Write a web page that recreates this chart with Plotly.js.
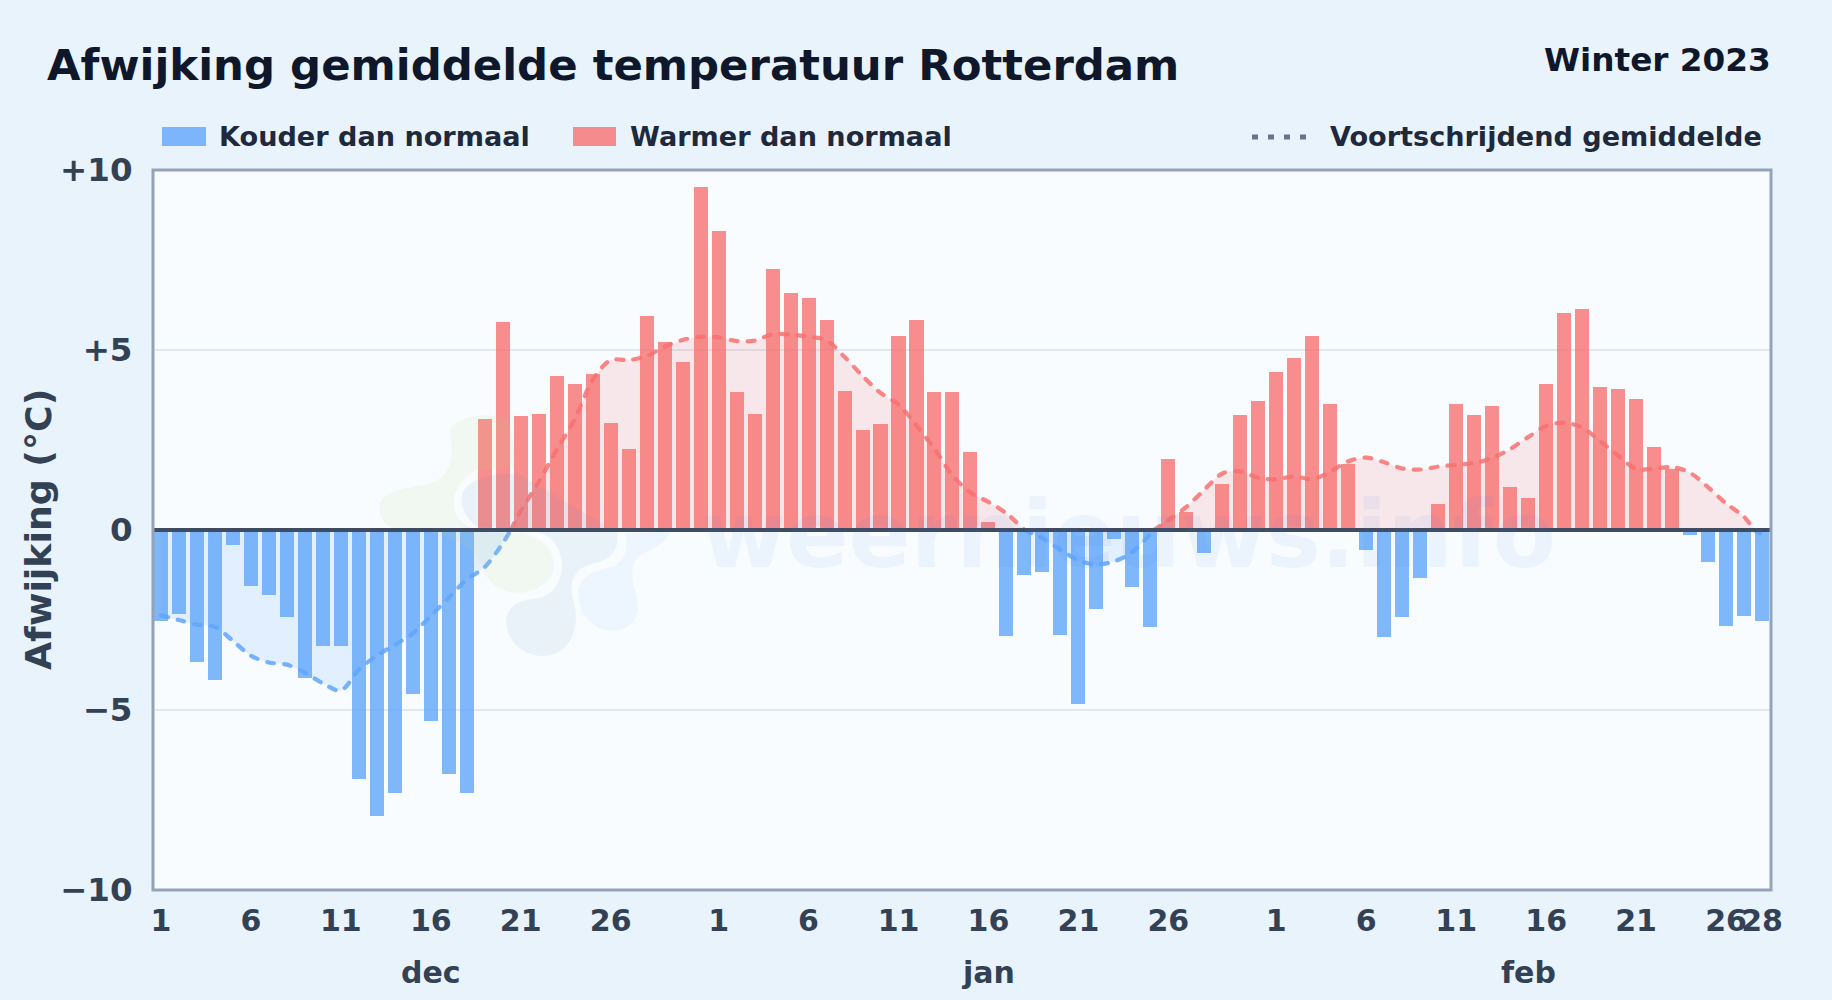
<!DOCTYPE html>
<html>
<head>
<meta charset="utf-8">
<script src="https://cdn.plot.ly/plotly-3.0.1.min.js"></script>
<style>html,body{margin:0;padding:0;background:#e9f3fc}#chart{width:1832px;height:1000px}</style>
</head>
<body>
<div id="chart"></div>
<script>
// Day 0 = 1 dec, day 31 = 1 jan, day 62 = 1 feb
const deviation = [
  -2.52,-2.33,-3.67,-4.17,-0.41,-1.55,-1.81,-2.41,-4.11,-3.22,-3.22,-6.91,-7.94,-7.30,-4.55,-5.30,-6.77,-7.30,
  3.08,5.78,3.17,3.22,4.28,4.06,4.33,2.98,2.25,5.94,5.22,4.67,9.53,
  8.30,3.84,3.22,7.25,6.58,6.44,5.84,3.86,2.77,2.94,5.39,5.84,3.84,3.84,2.17,0.22,
  -2.94,-1.25,-1.17,-2.91,-4.84,-2.20,-0.26,-1.58,-2.70,1.97,0.50,-0.65,1.28,3.20,3.58,
  4.38,4.77,5.39,3.51,1.83,-0.55,-2.97,-2.41,-1.33,0.72,3.51,3.20,3.44,1.20,0.89,
  4.06,6.03,6.14,3.97,3.92,3.65,2.31,1.70,-0.15,-0.88,-2.67,-2.38,-2.53
];
const avgDay = [
  0,1,2,3,4,5,6,7,8,9,10,11,12,13,14,15,16,17,18,19,19.45,
  20,21,22,23,24,25,26,27,28,29,30,31,32,33,34,35,36,37,38,39,40,41,42,43,44,45,46,47,48,
  49,50,51,52,53,54,55.2,
  56,57,58,59,60,61,62,63,64,65,66,67,68,69,70,71,72,73,74,75,76,77,78,79,80,81,82,83,84,85,86,87,88,88.55,89
];
const avgValue = [
  -2.37,-2.50,-2.63,-2.69,-3.08,-3.49,-3.68,-3.74,-3.96,-4.26,-4.46,-3.88,-3.49,-3.19,-2.87,-2.39,-1.88,-1.38,-1.03,-0.37,0,
  0.53,1.33,2.23,3.08,4.17,4.72,4.72,4.83,5.09,5.28,5.37,5.35,5.25,5.26,5.44,5.43,5.37,5.27,4.81,4.28,3.81,3.49,2.90,2.26,1.52,1.04,0.78,0.46,0,
  -0.23,-0.55,-0.84,-0.96,-0.87,-0.61,0,
  0.27,0.64,1.12,1.57,1.63,1.45,1.41,1.49,1.41,1.62,1.91,2.01,1.88,1.71,1.68,1.76,1.81,1.86,2.00,2.25,2.58,2.89,2.98,2.85,2.47,2.07,1.70,1.70,1.75,1.59,1.19,0.74,0.37,0,-0.13
];
const tickDays = [0,5,10,15,20,25,31,36,41,46,51,56,62,67,72,77,82,87,89];
const tickText = ['1','6','11','16','21','26','1','6','11','16','21','26','1','6','11','16','21','26','28'];
const monthNames = ['dec','jan','feb'];
const monthCenters = [15,46,76];
const yTicks = [10,5,0,-5,-10];
const yTickText = ['+10','+5','0','\u22125','\u221210'];
const titleText = 'Afwijking gemiddelde temperatuur Rotterdam';
const seasonText = 'Winter 2023';
const legendCold = 'Kouder dan normaal';
const legendWarm = 'Warmer dan normaal';
const legendAvg = 'Voortschrijdend gemiddelde';

const BLUE='rgb(96,165,250)', RED='rgb(248,113,113)';
const W=1832,H=1000,L=153,R=1771,T=170,B=890;
const FONT='"DejaVu Sans", sans-serif';
const ax=x=>(x-L)/(R-L), ay=y=>(B-y)/(B-T);   // page pixels to paper fractions

const traces=[{
  type:'bar',x:deviation.map((_,i)=>i),y:deviation,width:0.78,
  marker:{color:deviation.map(v=>v<0?BLUE:RED),opacity:0.8,line:{width:0}},
  showlegend:false,hoverinfo:'x+y'
}];
// Split the average at its zero crossings: blue below zero, red above.
let seg={x:[],y:[]};
function flush(){
  if(seg.x.length<2)return;
  const neg=seg.y.some(v=>v<0);
  traces.push({type:'scatter',mode:'lines',x:seg.x,y:seg.y,fill:'tozeroy',
    fillcolor:neg?'rgba(96,165,250,0.15)':'rgba(248,113,113,0.15)',
    line:{color:neg?BLUE:RED,width:4.2,dash:'7px,10px',shape:'spline',smoothing:0.9},
    showlegend:false,hoverinfo:'skip'});
}
avgDay.forEach((d,i)=>{
  seg.x.push(d);seg.y.push(avgValue[i]);
  if(avgValue[i]===0){flush();seg={x:[d],y:[0]};}
});
flush();

const logo='<svg xmlns="http://www.w3.org/2000/svg" viewBox="0 0 960 810">'
 +'<path fill="rgb(190,215,140)" fill-opacity="0.11" d="M268 100C275 50 380 30 450 60L470 200L350 210C285 240 260 320 300 360C340 400 400 400 470 400C540 400 580 450 582 490C585 540 530 580 470 578C410 575 380 540 365 500C340 420 200 385 120 385C70 385 50 340 60 310C70 270 150 265 210 250C260 235 285 190 270 100Z"/>'
 +'<path fill="rgb(100,140,190)" fill-opacity="0.09" d="M305 290C310 240 400 215 480 225L770 395C780 440 760 480 700 490C640 505 625 550 640 600C665 680 630 770 545 768C470 765 430 700 440 650C450 610 490 600 530 595C590 585 620 520 600 460C585 420 560 395 480 385L350 380C325 360 300 330 305 290Z"/>'
 +'<path fill="rgb(96,165,250)" fill-opacity="0.07" d="M655 590C650 540 690 515 740 505C790 495 810 450 795 400L930 395C920 430 880 445 850 460C815 480 810 520 825 570C850 640 820 690 760 692C700 690 660 650 655 590Z"/>'
 +'</svg>';

const note=(t,x,y,size,color,anchor,opts)=>Object.assign({text:t,xref:'paper',yref:'paper',x:ax(x),y:ay(y),
  showarrow:false,xanchor:anchor,yanchor:'middle',font:{family:FONT,size:size,color:color,weight:700}},opts||{});

const layout={
  width:W,height:H,autosize:false,
  paper_bgcolor:'#e9f3fc',plot_bgcolor:'#f8fcff',
  margin:{l:L,r:W-R,t:T,b:H-B,pad:0},
  bargap:0,showlegend:false,hovermode:false,
  font:{family:FONT},
  xaxis:{range:[-0.44,89.5],tickmode:'array',tickvals:tickDays,ticktext:tickText,tickangle:0,
    showgrid:false,zeroline:false,showline:false,ticks:'outside',ticklen:4,tickcolor:'rgba(0,0,0,0)',
    tickfont:{family:FONT,size:30,color:'#334155',weight:700}},
  yaxis:{range:[-10,10],tickmode:'array',tickvals:yTicks,ticktext:yTickText,
    showgrid:true,gridcolor:'#e2e8f0',gridwidth:2,zeroline:false,showline:false,
    ticks:'outside',ticklen:13,tickcolor:'rgba(0,0,0,0)',
    tickfont:{family:FONT,size:32.5,color:'#334155',weight:700}},
  shapes:[
    {type:'line',xref:'paper',yref:'y',x0:0,x1:1,y0:0,y1:0,line:{color:'#3f4c62',width:4},layer:'above'},
    {type:'rect',xref:'paper',yref:'paper',x0:0,x1:1,y0:0,y1:1,line:{color:'#94a3b8',width:3},fillcolor:'rgba(0,0,0,0)',layer:'above'},
    {type:'rect',xref:'paper',yref:'paper',x0:ax(162),x1:ax(206),y0:ay(146),y1:ay(127),fillcolor:BLUE,opacity:0.8,line:{width:0}},
    {type:'rect',xref:'paper',yref:'paper',x0:ax(573),x1:ax(616),y0:ay(146),y1:ay(127),fillcolor:RED,opacity:0.8,line:{width:0}},
    {type:'line',xref:'paper',yref:'paper',x0:ax(1252),x1:ax(1307),y0:ay(137),y1:ay(137),line:{color:'#64748b',width:5,dash:'6px,10px'}}
  ],
  images:[{source:'data:image/svg+xml;utf8,'+encodeURIComponent(logo),xref:'paper',yref:'paper',
    x:ax(360),y:ay(400),sizex:320/(R-L),sizey:270/(B-T),xanchor:'left',yanchor:'top',sizing:'stretch',layer:'above'}],
  annotations:[
    note('weernieuws.info',1128,535,92,'rgba(70,130,220,0.07)','center'),
    note(titleText,45,65,43.4,'#0f172a','left'),
    note(seasonText,1773,60,32.7,'#0f172a','right'),
    note(legendCold,217,137,27.1,'#1e293b','left'),
    note(legendWarm,628,137,27.1,'#1e293b','left'),
    note(legendAvg,1328,137,27.1,'#1e293b','left'),
    note('Afwijking (\u00b0C)',38,530,36.3,'#334155','center',{textangle:-90}),
  ].concat(monthNames.map((m,i)=>({text:m,xref:'x',yref:'paper',x:monthCenters[i],y:ay(972),showarrow:false,
    xanchor:'center',yanchor:'middle',font:{family:FONT,size:30,color:'#334155',weight:700}})))
};

Plotly.newPlot('chart',traces,layout,{displayModeBar:false,staticPlot:true}).then(()=>{
  document.querySelectorAll('.scatterlayer path.js-line').forEach(p=>{p.style.strokeLinecap='round';p.style.opacity='0.85';});
});
</script>
</body>
</html>
